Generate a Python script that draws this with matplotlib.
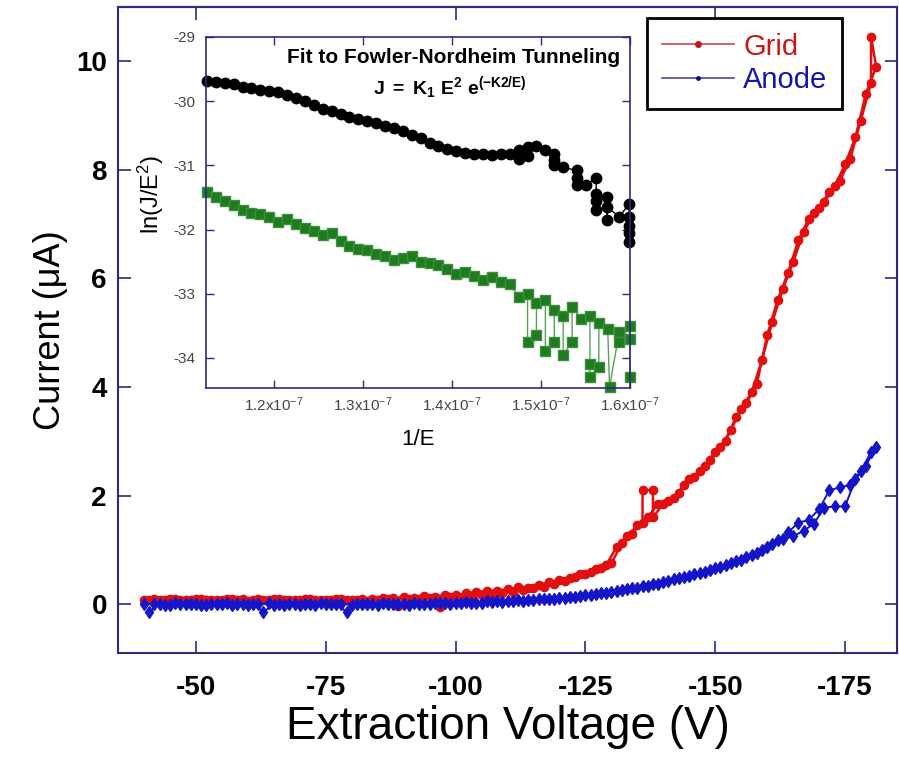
import matplotlib
matplotlib.use('Agg')
import matplotlib.pyplot as plt
from matplotlib.lines import Line2D

plt.rcParams['font.family'] = ['Liberation Sans', 'DejaVu Sans']
plt.rcParams['mathtext.fontset'] = 'custom'
plt.rcParams['mathtext.rm'] = 'Liberation Sans'
plt.rcParams['mathtext.bf'] = 'Liberation Sans:bold'
plt.rcParams['mathtext.it'] = 'Liberation Sans:italic'

# ---- main plot data: up sweep (even volts) then down sweep (odd volts) ----
grid_up_v = [-40, -42, -44, -46, -48, -50, -52, -54, -56, -58,
             -60, -62, -64, -66, -68, -70, -72, -74, -76, -78,
             -80, -82, -84, -86, -88, -90, -92, -94, -96, -98,
             -100, -102, -104, -106, -108, -110, -112, -114, -116, -118,
             -120, -122, -124, -126, -128, -130, -132, -134, -136, -136, -138, -138,
             -140, -142, -144, -146, -148, -150, -152, -154, -156, -158,
             -160, -162, -164, -166, -168, -170, -172, -174, -176, -178,
             -180, -180]
grid_up_i = [0.08, 0.09, 0.07, 0.10, 0.08, 0.09, 0.07, 0.08, 0.10, 0.07,
             0.06, 0.09, 0.08, 0.10, 0.07, 0.08, 0.09, 0.07, 0.08, 0.10,
             0.07, 0.09, 0.10, 0.12, 0.11, 0.13, 0.12, 0.15, 0.14, 0.17,
             0.16, 0.20, 0.22, 0.25, 0.24, 0.28, 0.31, 0.30, 0.36, 0.40,
             0.44, 0.48, 0.55, 0.60, 0.66, 0.75, 1.12, 1.30, 1.50, 2.10, 2.10, 1.60,
             1.85, 1.95, 2.20, 2.35, 2.55, 2.80, 3.00, 3.45, 3.70, 4.05,
             4.95, 5.60, 6.10, 6.70, 7.10, 7.30, 7.60, 7.80, 8.20, 8.90,
             9.60, 10.45]
grid_down_v = [-181, -179, -177, -175, -173, -171, -169, -167, -165, -163,
               -161, -159, -157, -155, -153, -151, -149, -147, -145, -143,
               -141, -139, -137, -135, -133, -131, -129, -127, -125, -123,
               -121, -119, -117, -115, -113, -111, -109, -107, -105, -103,
               -101, -99, -97, -95, -93, -91, -89, -87, -85, -83,
               -81, -79, -77, -75, -73, -71, -69, -67, -65, -63,
               -61, -59, -57, -55, -53, -51, -49, -47, -45, -43,
               -41]
grid_down_i = [9.90, 9.40, 8.60, 8.10, 7.70, 7.40, 7.20, 6.85, 6.30, 5.80,
               5.20, 4.50, 3.90, 3.60, 3.20, 2.90, 2.65, 2.45, 2.30, 2.05,
               1.90, 1.85, 1.60, 1.45, 1.25, 1.05, 0.72, 0.65, 0.55, 0.50,
               0.42, 0.38, 0.32, 0.30, 0.26, 0.22, 0.20, 0.18, 0.16, 0.15,
               0.12, 0.13, -0.06, 0.11, 0.09, 0.10, -0.04, 0.09, 0.07, 0.06,
               0.08, 0.07, 0.09, 0.08, 0.07, 0.10, 0.08, 0.07, 0.09, 0.08,
               0.07, 0.09, 0.10, 0.08, 0.07, 0.09, 0.08, 0.07, 0.09, 0.08,
               0.07]

anode_up_v = [-40, -42, -44, -46, -48, -50, -52, -54, -56, -58,
              -60, -62, -64, -66, -68, -70, -72, -74, -76, -78,
              -80, -82, -84, -86, -88, -90, -92, -94, -96, -98,
              -100, -102, -104, -106, -108, -110, -112, -114, -116, -118,
              -120, -122, -124, -126, -128, -130, -132, -134, -136, -138,
              -140, -142, -144, -146, -148, -150, -152, -154, -156, -158,
              -160, -162, -164, -166, -168, -170, -172, -174, -176, -178,
              -180]
anode_up_i = [0.00, 0.01, -0.01, 0.02, 0.00, 0.01, -0.01, 0.00, 0.02, 0.01,
              -0.01, 0.00, 0.02, 0.01, 0.00, -0.01, 0.01, 0.02, 0.00, 0.01,
              -0.01, 0.00, 0.01, 0.02, 0.00, 0.01, 0.02, 0.01, 0.03, 0.02,
              0.03, 0.04, 0.03, 0.05, 0.05, 0.06, 0.07, 0.08, 0.09, 0.10,
              0.12, 0.13, 0.15, 0.17, 0.20, 0.23, 0.26, 0.29, 0.33, 0.37,
              0.41, 0.46, 0.50, 0.55, 0.60, 0.66, 0.73, 0.80, 0.87, 0.95,
              1.05, 1.18, 1.32, 1.50, 1.55, 1.75, 2.10, 2.15, 2.20, 2.45,
              2.80]
anode_down_v = grid_down_v
anode_down_i = [2.90, 2.55, 2.30, 1.80, 1.80, 1.78, 1.48, 1.35, 1.25, 1.20,
                1.10, 1.00, 0.90, 0.82, 0.75, 0.68, 0.62, 0.57, 0.52, 0.48,
                0.43, 0.38, 0.34, 0.30, 0.27, 0.24, 0.21, 0.18, 0.16, 0.14,
                0.12, 0.10, 0.09, 0.08, 0.06, 0.05, 0.04, 0.04, 0.03, 0.02,
                0.02, 0.01, 0.02, 0.00, 0.01, -0.01, 0.00, 0.01, -0.02, 0.00,
                0.01, -0.14, 0.00, 0.01, -0.01, 0.00, 0.01, -0.01, -0.01, -0.14,
                0.00, 0.01, -0.01, 0.00, 0.01, -0.01, 0.00, 0.01, -0.01, 0.00,
                -0.14]

volt_ticks = [-50, -75, -100, -125, -150, -175]
volt_labels = ['-50', '-75', '-100', '-125', '-150', '-175']
cur_ticks = [0, 2, 4, 6, 8, 10]
legend_labels = ['Grid', 'Anode']

# ---- inset data: 1/E in units of 1e-7 ----
fn_x_black = [1.125, 1.135, 1.145, 1.155, 1.165, 1.175, 1.185, 1.195, 1.205, 1.215,
              1.225, 1.235, 1.245, 1.255, 1.265, 1.275, 1.285, 1.295, 1.305, 1.315,
              1.325, 1.335, 1.345, 1.355, 1.365, 1.375, 1.385, 1.395, 1.405, 1.415,
              1.425, 1.435, 1.445, 1.455, 1.465, 1.475, 1.475, 1.485, 1.485, 1.495,
              1.505, 1.515, 1.515, 1.515, 1.525, 1.540, 1.540, 1.540, 1.551, 1.562,
              1.562, 1.562, 1.562, 1.574, 1.574, 1.574, 1.588, 1.599, 1.599, 1.599,
              1.599, 1.599]
fn_y_black = [-29.68, -29.70, -29.72, -29.74, -29.78, -29.80, -29.82, -29.84, -29.86, -29.90,
              -29.95, -30.00, -30.06, -30.12, -30.16, -30.20, -30.24, -30.28, -30.31, -30.34,
              -30.38, -30.42, -30.47, -30.52, -30.58, -30.65, -30.70, -30.74, -30.78, -30.80,
              -30.82, -30.82, -30.84, -30.83, -30.82, -30.76, -30.90, -30.72, -30.85, -30.70,
              -30.76, -30.82, -30.92, -31.00, -31.03, -31.08, -31.20, -31.30, -31.30, -31.20,
              -31.45, -31.70, -31.55, -31.50, -31.85, -31.65, -31.80, -31.60, -31.95, -32.20,
              -31.80, -32.05]
fn_x_green = [1.125, 1.135, 1.145, 1.155, 1.165, 1.175, 1.185, 1.195, 1.205, 1.215,
              1.225, 1.235, 1.245, 1.255, 1.265, 1.275, 1.285, 1.295, 1.305, 1.315,
              1.325, 1.335, 1.345, 1.355, 1.365, 1.375, 1.385, 1.395, 1.405, 1.415,
              1.425, 1.435, 1.445, 1.455, 1.465, 1.475, 1.485, 1.485, 1.495, 1.495,
              1.505, 1.505, 1.515, 1.515, 1.525, 1.525, 1.535, 1.535, 1.545, 1.555,
              1.555, 1.555, 1.565, 1.565, 1.575, 1.577, 1.588, 1.588, 1.600, 1.600,
              1.600]
fn_y_green = [-31.42, -31.50, -31.55, -31.62, -31.70, -31.74, -31.76, -31.80, -31.88, -31.84,
              -31.92, -31.98, -32.02, -32.08, -32.05, -32.18, -32.25, -32.30, -32.32, -32.38,
              -32.42, -32.48, -32.45, -32.42, -32.50, -32.52, -32.56, -32.62, -32.70, -32.66,
              -32.72, -32.78, -32.74, -32.82, -32.85, -33.05, -33.00, -33.75, -33.65, -33.15,
              -33.10, -33.90, -33.75, -33.25, -33.35, -33.95, -33.75, -33.20, -33.40, -33.35,
              -34.10, -34.30, -34.15, -33.45, -33.55, -34.45, -33.60, -33.75, -33.50, -33.70,
              -34.30]
inv_e_ticks = [1.2, 1.3, 1.4, 1.5, 1.6]
inv_e_labels = [r'1.2x10$^{-7}$', r'1.3x10$^{-7}$', r'1.4x10$^{-7}$',
                r'1.5x10$^{-7}$', r'1.6x10$^{-7}$']
ln_ticks = [-34, -33, -32, -31, -30, -29]
ln_labels = ['-34', '-33', '-32', '-31', '-30', '-29']

navy = '#2b2b7f'

fig = plt.figure(figsize=(8.99, 7.71), dpi=100)
ax = fig.add_axes([118 / 899, (771 - 653) / 771, 779 / 899, 646 / 771])

ax.plot(grid_up_v + grid_down_v, grid_up_i + grid_down_i, '-', color='#e01010',
        lw=1.8, marker='o', ms=6, mec='#e01010', mfc='#e01010', zorder=2)
ax.plot(anode_up_v + anode_down_v, anode_up_i + anode_down_i, '-', color='#1515c8',
        lw=1.4, marker='d', ms=6, mec='#1515c8', mfc='#1515c8', zorder=3)

ax.set_xlim(-35, -185)
ax.set_ylim(-0.9, 11)
ax.set_xticks(volt_ticks)
ax.set_xticklabels(volt_labels)
ax.set_yticks(cur_ticks)
ax.set_yticklabels([str(t) for t in cur_ticks])
ax.tick_params(direction='in', length=9, width=1.2, color=navy, labelsize=20)
ax.tick_params(axis='x', pad=16, top=False)
ax.tick_params(axis='y', pad=8, right=True)
for lab in ax.get_xticklabels() + ax.get_yticklabels():
    lab.set_fontweight('bold')
for s in ax.spines.values():
    s.set_color(navy)
    s.set_linewidth(1.5)

top = ax.secondary_xaxis('top')
top.set_xticks([-50, -100, -150])
top.set_xticklabels([])
top.tick_params(direction='in', length=9, width=1.2, color=navy)
top.spines['top'].set_color(navy)
top.spines['top'].set_linewidth(1.5)

ax.set_xlabel('Extraction Voltage (V)', fontsize=33, labelpad=3)
ax.set_ylabel('Current (\u03bcA)', fontsize=26, labelpad=6)

handles = [Line2D([], [], color='#c84545', lw=1.2, marker='o', ms=4,
                  mfc='#c01818', mec='#c01818'),
           Line2D([], [], color='#4545a0', lw=1.2, marker='o', ms=2.5,
                  mfc='#10107a', mec='#10107a')]
leg = ax.legend(handles, legend_labels, loc='upper right',
                bbox_to_anchor=(0.9294, 0.983), fontsize=21, frameon=True,
                fancybox=False, edgecolor='black', framealpha=1,
                borderaxespad=0, handlelength=2.5, handletextpad=0.3,
                labelspacing=0.2, borderpad=0.5,
                labelcolor=['#cc1515', '#1515aa'])
leg.get_frame().set_linewidth(2)

# ---- inset ----
axin = fig.add_axes([206 / 899, (771 - 388) / 771, 424 / 899, 351 / 771])
axin.plot(fn_x_black, fn_y_black, '-', color='black', lw=1, marker='o', ms=7.5,
          mfc='black', mec='black', clip_on=False)
axin.plot(fn_x_green, fn_y_green, '-', color='#5aa05a', lw=1, marker='s', ms=7.5,
          mfc='#1e7b1e', mec='#3d8f3d', clip_on=False)
axin.set_xlim(1.124, 1.6)
axin.set_ylim(-34.47, -29)
axin.set_xticks(inv_e_ticks)
axin.set_xticklabels(inv_e_labels)
axin.set_yticks(ln_ticks)
axin.set_yticklabels(ln_labels)
axin.tick_params(direction='in', top=True, right=True, length=6, width=1,
                 color=navy, labelsize=11, labelcolor='#444444')
axin.tick_params(axis='x', pad=5)
axin.tick_params(axis='y', pad=8)
for s in axin.spines.values():
    s.set_color(navy)
    s.set_linewidth(1.2)
axin.set_xlabel('1/E', fontsize=16, labelpad=11)
axin.set_ylabel('ln(J/E$^2$)', fontsize=17)
axin.yaxis.set_label_coords(-0.095, 0.55)
axin.text(0.976, 0.943, 'Fit to Fowler-Nordheim Tunneling', transform=axin.transAxes,
          ha='right', va='center', fontsize=15, fontweight='bold')
axin.text(0.575, 0.855, r'$\mathbf{J\ =\ K_1\ E^2\ e^{(-K2/E)}}$',
          transform=axin.transAxes, ha='center', va='center', fontsize=14)

fig.savefig('out.png', dpi=100, facecolor='white')
